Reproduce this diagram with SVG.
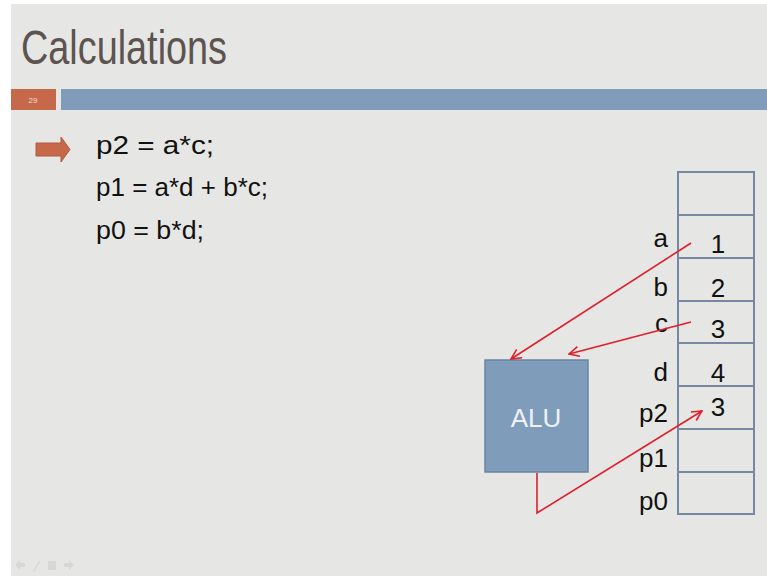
<svg xmlns="http://www.w3.org/2000/svg" width="767" height="577" viewBox="0 0 767 577">
<defs>
<style>
.t{font-family:"Liberation Sans","DejaVu Sans",sans-serif;fill:#111}
.code{font-size:26px}
.lbl{font-size:26px;text-anchor:end}
.val{font-size:26px;text-anchor:middle}
.cell{fill:none;stroke:#7689a0;stroke-width:2}
.red{fill:none;stroke:#e01e2c;stroke-width:1.6}
</style>
<marker id="ah" viewBox="0 0 12 12" refX="11" refY="6" markerWidth="12" markerHeight="12" markerUnits="userSpaceOnUse" orient="auto">
<path d="M1,1 L11,6 L1,11" fill="none" stroke="#e01e2c" stroke-width="1.6"/>
</marker>
</defs>
<rect x="0" y="0" width="767" height="577" fill="#ffffff"/>
<rect x="11" y="4" width="756" height="572" fill="#e6e7e4"/>
<text x="21" y="64" class="t" style="font-size:48px;fill:#5d5350" textLength="206" lengthAdjust="spacingAndGlyphs">Calculations</text>
<rect x="11" y="89" width="45" height="21" fill="#c6694a"/>
<text x="33" y="103" class="t" style="font-size:8px;fill:#f3ddd4;text-anchor:middle">29</text>
<rect x="61" y="89" width="706" height="21" fill="#7f9dba"/>
<g id="pointer">
<path d="M36,143 L61,143 L61,137 L70,149.5 L61,162 L61,156 L36,156 Z" fill="#c6694a" stroke="#b25a3e" stroke-width="1"/>
</g>
<g id="code">
<text x="96" y="154" class="t code" textLength="118" lengthAdjust="spacingAndGlyphs">p2 = a*c;</text>
<text x="96" y="196" class="t code" textLength="172" lengthAdjust="spacingAndGlyphs">p1 = a*d + b*c;</text>
<text x="96" y="239" class="t code" textLength="108" lengthAdjust="spacingAndGlyphs">p0 = b*d;</text>
</g>
<g id="memory">
<rect x="678" y="172" width="76" height="43" class="cell"/>
<rect x="678" y="215" width="76" height="43" class="cell"/>
<rect x="678" y="258" width="76" height="43" class="cell"/>
<rect x="678" y="301" width="76" height="42" class="cell"/>
<rect x="678" y="343" width="76" height="43" class="cell"/>
<rect x="678" y="386" width="76" height="43" class="cell"/>
<rect x="678" y="429" width="76" height="43" class="cell"/>
<rect x="678" y="472" width="76" height="42" class="cell"/>
</g>
<g id="values">
<text x="718" y="253" class="t val">1</text>
<text x="718" y="297" class="t val">2</text>
<text x="718" y="338" class="t val">3</text>
<text x="718" y="382" class="t val">4</text>
<text x="718" y="416" class="t val">3</text>
</g>
<g id="labels">
<text x="668" y="247" class="t lbl">a</text>
<text x="668" y="296" class="t lbl">b</text>
<text x="668" y="332" class="t lbl">c</text>
<text x="668" y="381" class="t lbl">d</text>
<text x="668" y="422" class="t lbl">p2</text>
<text x="668" y="467" class="t lbl">p1</text>
<text x="668" y="510" class="t lbl">p0</text>
</g>
<g id="alu">
<rect x="485" y="360" width="103" height="112" fill="#7f9dba" stroke="#6a84a2" stroke-width="1.5"/>
<text x="536" y="427" class="t" style="font-size:26px;fill:#eef2f6;text-anchor:middle">ALU</text>
</g>
<g id="connectors">
<line x1="691" y1="243" x2="511" y2="359" class="red" marker-end="url(#ah)"/>
<line x1="691" y1="322" x2="569" y2="354" class="red" marker-end="url(#ah)"/>
<polyline points="537,473 537,513 702,411" class="red" marker-end="url(#ah)"/>
</g>
<g id="nav" fill="#d6d8d5">
<path d="M15,565 L20,560 L20,563 L25,563 L25,567 L20,567 L20,570 Z"/>
<path d="M33,571 L39,561 L40,562 L34,572 Z"/>
<rect x="48" y="561" width="8" height="9"/>
<path d="M74,565 L69,560 L69,563 L64,563 L64,567 L69,567 L69,570 Z"/>
</g>
</svg>
